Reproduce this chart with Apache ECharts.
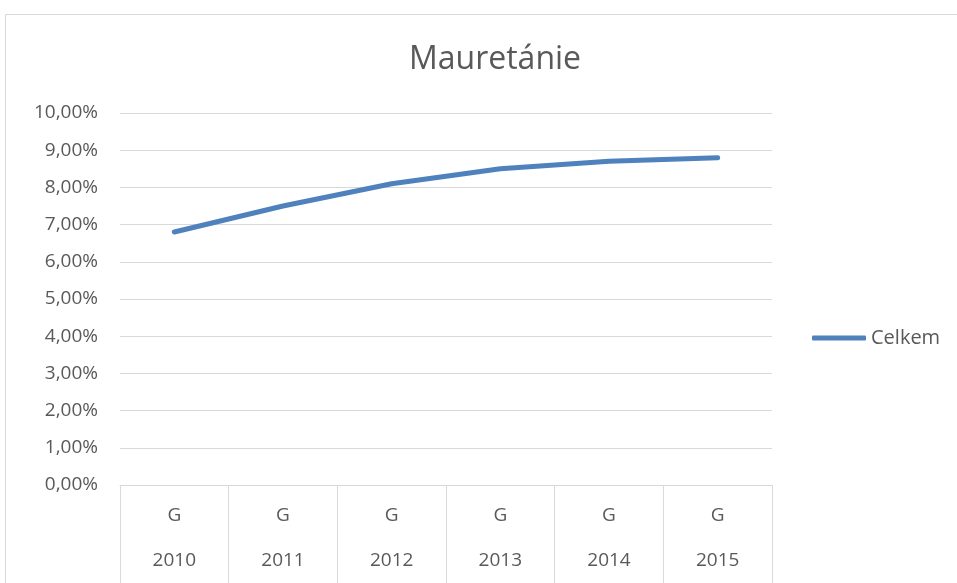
<!DOCTYPE html>
<html>
<head>
<meta charset="utf-8">
<script src="https://cdn.jsdelivr.net/npm/echarts@6/dist/echarts.min.js"></script>
<style>html,body{margin:0;padding:0;background:#fff}#c{width:957px;height:583px}</style>
</head>
<body>
<div id="c"></div>
<script>
const titleText = 'Mauretánie';
const seriesName = 'Celkem';
const groupLabels = ['G', 'G', 'G', 'G', 'G', 'G'];
const years = ['2010', '2011', '2012', '2013', '2014', '2015'];
const values = [6.8, 7.5, 8.1, 8.5, 8.7, 8.8];
const yMin = 0, yMax = 10, yStep = 1;

const font = '"Open Sans", sans-serif';
const txt = '#595959';
const gridC = '#d9d9d9';
const chart = echarts.init(document.getElementById('c'), null, {renderer: 'canvas'});
chart.setOption({
  animation: false,
  backgroundColor: '#fff',
  graphic: [{
    type: 'rect', silent: true,
    shape: {x: 5.5, y: 14.5, width: 1000, height: 1000},
    style: {fill: 'none', stroke: gridC, lineWidth: 1}
  }],
  title: {
    text: titleText, left: 490, top: 39, textAlign: 'center',
    textStyle: {fontFamily: font, fontSize: 32, fontWeight: 'normal', color: txt}
  },
  legend: {
    left: 812, top: 328, padding: 0, itemWidth: 54, itemHeight: 5, icon: 'roundRect',
    textStyle: {fontFamily: font, fontSize: 20, color: txt},
    data: [seriesName]
  },
  grid: {left: 120, right: 185, top: 113, bottom: 98},
  xAxis: [{
    type: 'category', data: groupLabels, position: 'bottom',
    axisLine: {lineStyle: {color: gridC}},
    axisTick: {show: true, length: 100, lineStyle: {color: gridC}},
    axisLabel: {margin: 21, fontFamily: font, fontSize: 19, color: txt}
  }, {
    type: 'category', data: years, position: 'bottom',
    axisLine: {show: false}, axisTick: {show: false},
    axisLabel: {margin: 66, fontFamily: font, fontSize: 19, color: txt}
  }],
  yAxis: {
    type: 'value', min: yMin, max: yMax, interval: yStep,
    axisLine: {show: false}, axisTick: {show: false},
    splitLine: {lineStyle: {color: gridC, width: 1}},
    axisLabel: {
      margin: 22, fontFamily: font, fontSize: 19, color: txt,
      formatter: v => v.toFixed(2).replace('.', ',') + '%'
    }
  },
  series: [{
    name: seriesName, type: 'line', data: values, xAxisIndex: 0,
    symbol: 'none', smooth: false,
    itemStyle: {color: '#4F81BD'},
    lineStyle: {color: '#4F81BD', width: 5, cap: 'round', join: 'round'}
  }]
});
</script>
</body>
</html>
